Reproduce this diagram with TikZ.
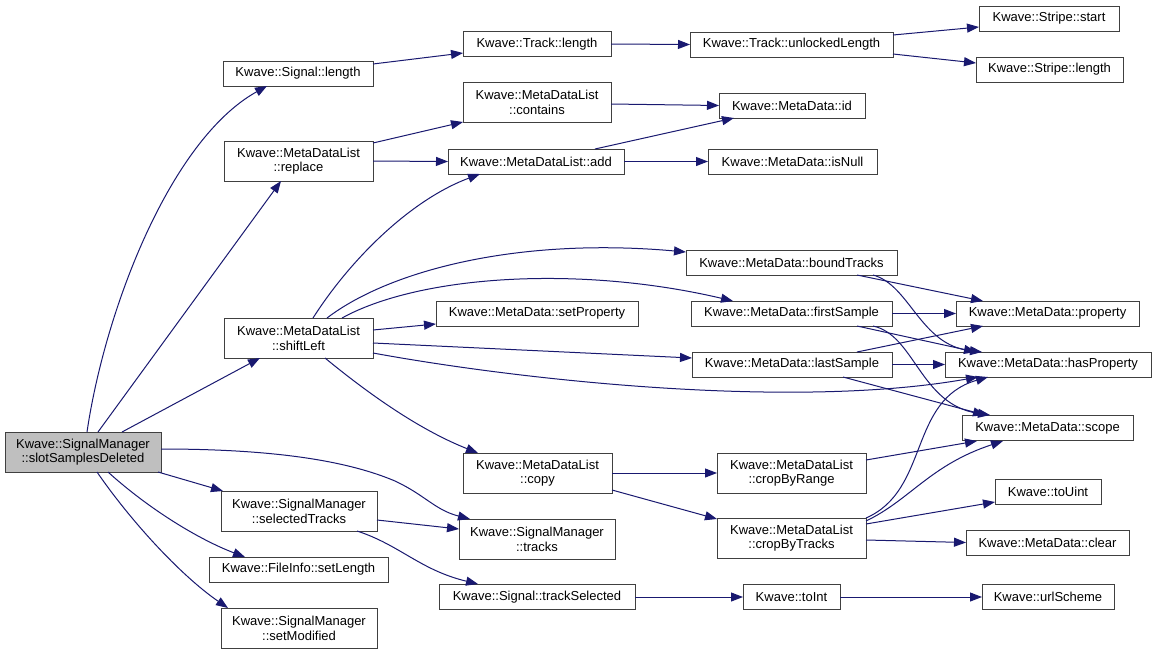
\documentclass[tikz,border=0pt]{standalone}
\usepackage{fontspec}
\setmainfont{Liberation Sans}
\usetikzlibrary{arrows.meta,calc}
\definecolor{edgec}{HTML}{191970}
\definecolor{bordc}{HTML}{404040}
\definecolor{mainc}{HTML}{BFBFBF}
\newcommand\bx[6]{\node[box,minimum width=#4pt,minimum height=#5pt] (#1) at (#2,#3) {#6};}
\begin{document}
\begin{tikzpicture}[x=1pt,y=-1pt,
  box/.style={draw=bordc, line width=1pt, fill=white, inner sep=0pt, outer sep=0pt,
    align=center, font=\fontsize{13}{14.7}\selectfont},
  ed/.style={draw=edgec, line width=1pt, -{Triangle[length=12pt,width=9pt]}}]
\fill[white] (0,0) rectangle (1156,654);
\useasboundingbox (0,0) rectangle (1156,654);
% nodes
\node[box,fill=mainc,minimum width=156pt,minimum height=40pt] (slot) at (83,452) {Kwave::SignalManager\\::slotSamplesDeleted};
\bx{siglen}{298}{73.5}{150}{25}{Kwave::Signal::length}
\bx{replace}{298.5}{161}{149}{40}{Kwave::MetaDataList\\::replace}
\bx{shiftLeft}{298.5}{338}{149}{40}{Kwave::MetaDataList\\::shiftLeft}
\bx{selTracks}{299}{511}{156}{40}{Kwave::SignalManager\\::selectedTracks}
\bx{setLength}{298.5}{569.5}{179}{25}{Kwave::FileInfo::setLength}
\bx{setModified}{299}{628}{156}{40}{Kwave::SignalManager\\::setModified}
\bx{trklen}{537}{44}{148}{25}{Kwave::Track::length}
\bx{contains}{537}{102.5}{148}{40}{Kwave::MetaDataList\\::contains}
\bx{add}{536}{161.5}{176}{25}{Kwave::MetaDataList::add}
\bx{setProperty}{537}{313.5}{202}{25}{Kwave::MetaData::setProperty}
\bx{copy}{537.5}{473}{149}{40}{Kwave::MetaDataList\\::copy}
\bx{smTracks}{537}{539}{156}{40}{Kwave::SignalManager\\::tracks}
\bx{trackSelected}{537}{597}{196}{25}{Kwave::Signal::trackSelected}
\bx{unlocked}{791.5}{44.5}{203}{25}{Kwave::Track::unlockedLength}
\bx{id}{792}{105.5}{146}{25}{Kwave::MetaData::id}
\bx{isNull}{792.5}{161.5}{169}{25}{Kwave::MetaData::isNull}
\bx{boundTracks}{791.5}{262.5}{211}{25}{Kwave::MetaData::boundTracks}
\bx{firstSample}{791.5}{313.5}{201}{25}{Kwave::MetaData::firstSample}
\bx{lastSample}{792}{364.5}{200}{25}{Kwave::MetaData::lastSample}
\bx{cropByRange}{791.5}{473}{149}{40}{Kwave::MetaDataList\\::cropByRange}
\bx{cropByTracks}{791.5}{538}{149}{40}{Kwave::MetaDataList\\::cropByTracks}
\bx{toInt}{791.5}{597}{97}{25}{Kwave::toInt}
\bx{stripeStart}{1049}{18.5}{140}{25}{Kwave::Stripe::start}
\bx{stripeLength}{1049.5}{69.5}{147}{25}{Kwave::Stripe::length}
\bx{property}{1047.5}{313.5}{183}{25}{Kwave::MetaData::property}
\bx{hasProperty}{1048}{364.5}{206}{25}{Kwave::MetaData::hasProperty}
\bx{scope}{1047.5}{428}{171}{25}{Kwave::MetaData::scope}
\bx{toUint}{1048}{492}{106}{25}{Kwave::toUint}
\bx{clear}{1047.5}{542.5}{163}{25}{Kwave::MetaData::clear}
\bx{urlScheme}{1048}{597}{132}{25}{Kwave::urlScheme}
% edges from slot
\draw[ed] ($(slot)+(4,-20)$) .. controls +(18,-122) and +(-97,54) .. ($(siglen)+(-31,12.5)$);
\draw[ed] ($(slot)+(15,-20)$) -- ($(replace)+(-17.5,20)$);
\draw[ed] ($(slot)+(39,-20)$) -- ($(shiftLeft)+(-38.5,20)$);
\draw[ed] ($(slot)+(75,20)$) -- ($(selTracks)+(-76,-20)$);
\draw[ed] ($(slot)+(78,-3)$) .. controls +(119,0) and +(-45,-19) .. (395,481)
  .. controls +(30,14) and +(-35,-9) .. ($(smTracks)+(-67,-20)$);
\draw[ed] ($(slot)+(25,20)$) .. controls +(42,38) and +(-45,-17) .. ($(setLength)+(-53.5,-12.5)$);
\draw[ed] ($(slot)+(14,20)$) .. controls +(33,48) and +(-48,-33) .. ($(setModified)+(-71,-20)$);
% upper chain
\draw[ed] ($(siglen)+(75,-9.5)$) -- ($(trklen)+(-74,9)$);
\draw[ed] (trklen.east) -- (unlocked.west);
\draw[ed] ($(unlocked)+(101.5,-9.5)$) -- ($(stripeStart)+(-70,8.5)$);
\draw[ed] ($(unlocked)+(101.5,9.5)$) -- ($(stripeLength)+(-73.5,-6.5)$);
\draw[ed] ($(replace)+(74.5,-18)$) -- ($(contains)+(-74,19.5)$);
\draw[ed] (replace.east) -- (add.west);
\draw[ed] ($(contains)+(74,1.5)$) -- (id.west);
\draw[ed] ($(add)+(59,-12.5)$) -- ($(id)+(-58,12.5)$);
\draw[ed] (add.east) -- (isNull.west);
% shiftLeft
\draw[ed] ($(shiftLeft)+(14.5,-20)$) .. controls +(37,-58) and +(-70,26) .. ($(add)+(-56,12.5)$);
\draw[ed] ($(shiftLeft)+(28.5,-20)$) .. controls +(63,-48) and +(-167,-15) .. ($(boundTracks)+(-105.5,-10.5)$);
\draw[ed] ($(shiftLeft)+(43.5,-20)$) .. controls +(78,-43) and +(-153,-36) .. ($(firstSample)+(-58.5,-12.5)$);
\draw[ed] ($(shiftLeft)+(74.5,-8)$) -- ($(setProperty)+(-101,10.5)$);
\draw[ed] ($(shiftLeft)+(74.5,5)$) -- ($(lastSample)+(-100,-6.5)$);
\draw[ed] ($(shiftLeft)+(74.5,15)$) .. controls +(147,27) and +(-185,33) .. ($(hasProperty)+(-70,12.5)$);
\draw[ed] ($(shiftLeft)+(26.5,20)$) .. controls +(45,37) and +(-58,-23) .. ($(copy)+(-59.5,-20)$);
% MetaData accessors
\draw[ed] ($(boundTracks)+(65.5,12.5)$) -- ($(property)+(-64.5,-12.5)$);
\draw[ed] ($(boundTracks)+(81.5,12.5)$) .. controls +(37,10) and +(-62,-7) .. ($(hasProperty)+(-66,-12.5)$);
\draw[ed] (firstSample.east) -- (property.west);
\draw[ed] ($(firstSample)+(65.5,12.5)$) -- ($(hasProperty)+(-72,-12.5)$);
\draw[ed] ($(firstSample)+(81.5,12.5)$) .. controls +(42,9) and +(-70,-10) .. ($(scope)+(-57.5,-13)$);
\draw[ed] ($(lastSample)+(65,-12.5)$) -- ($(property)+(-64.5,12.5)$);
\draw[ed] (lastSample.east) -- (hasProperty.west);
\draw[ed] ($(lastSample)+(51,12.5)$) -- ($(scope)+(-62.5,-13)$);
% copy
\draw[ed] (copy.east) -- (cropByRange.west);
\draw[ed] ($(copy)+(74.5,17)$) -- ($(cropByTracks)+(-74.5,-19)$);
\draw[ed] ($(cropByRange)+(74.5,-13)$) -- ($(scope)+(-70.5,13)$);
\draw[ed] ($(cropByTracks)+(74.5,-20)$) .. controls +(64,-28) and +(-80,23) .. ($(hasProperty)+(-60,12.5)$);
\draw[ed] ($(cropByTracks)+(74.5,-17)$) .. controls +(44,-21) and +(-73,24) .. ($(scope)+(-44.5,13)$);
\draw[ed] ($(cropByTracks)+(74.5,-14)$) -- ($(toUint)+(-53,10)$);
\draw[ed] ($(cropByTracks)+(74.5,2)$) -- (clear.west);
% selected tracks
\draw[ed] ($(selTracks)+(78,9)$) -- ($(smTracks)+(-78,-10)$);
\draw[ed] ($(selTracks)+(58,20)$) .. controls +(43,14) and +(-58,-14) .. ($(trackSelected)+(-59,-13)$);
\draw[ed] (trackSelected.east) -- (toInt.west);
\draw[ed] (toInt.east) -- (urlScheme.west);
\end{tikzpicture}
\end{document}
